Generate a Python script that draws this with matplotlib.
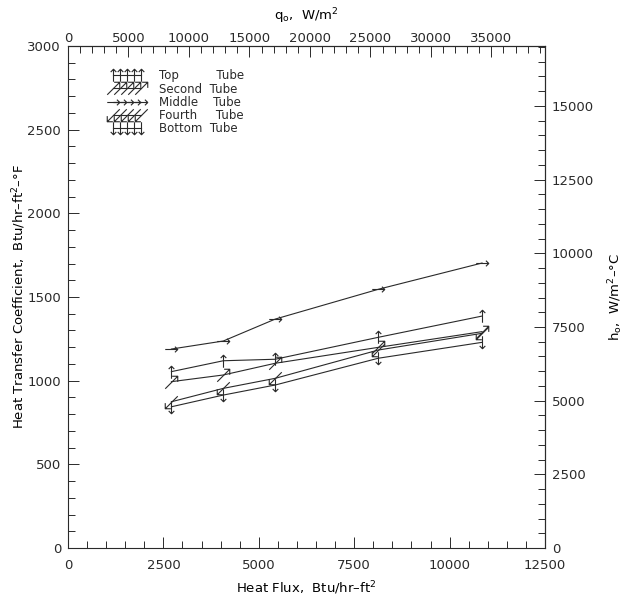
import matplotlib
matplotlib.use("Agg")
import matplotlib.pyplot as plt
from matplotlib.path import Path
from matplotlib.ticker import MultipleLocator
import numpy as np

# ---- data ----
heat_flux = [2710, 4070, 5430, 8130, 10850]          # Btu/hr-ft2
top_tube = [1054, 1119, 1128, 1259, 1386]
second_tube = [994, 1034, 1104, 1199, 1293]
middle_tube = [1189, 1237, 1368, 1546, 1703]
fourth_tube = [874, 954, 1014, 1183, 1283]
bottom_tube = [844, 914, 974, 1134, 1229]
series_names = ["Top", "Second", "Middle", "Fourth", "Bottom"]
legend_labels = ["Top          Tube", "Second  Tube", "Middle    Tube",
                 "Fourth     Tube", "Bottom  Tube"]

FLUX_FACTOR = 3.1546   # Btu/hr-ft2 -> W/m2
COEF_FACTOR = 5.678    # Btu/hr-ft2-F -> W/m2-C

INK = "#2a2a2a"
plt.rcParams["font.family"] = ["DejaVu Sans"]
plt.rcParams["text.color"] = INK
plt.rcParams["axes.edgecolor"] = INK
plt.rcParams["xtick.color"] = INK
plt.rcParams["ytick.color"] = INK
plt.rcParams["mathtext.default"] = "regular"


def arrow_marker(angle_deg):
    verts = np.array([[0, -1], [0, 1], [-0.45, 0.55], [0, 1], [0.45, 0.55]], float)
    a = np.deg2rad(angle_deg - 90)
    rot = np.array([[np.cos(a), -np.sin(a)], [np.sin(a), np.cos(a)]])
    verts = verts @ rot.T
    codes = [Path.MOVETO, Path.LINETO, Path.MOVETO, Path.LINETO, Path.LINETO]
    return Path(verts, codes)


fig = plt.figure(figsize=(6.35, 5.96), dpi=100)
ax = fig.add_axes([68 / 635, 48 / 596, 477 / 635, 502 / 596])

series = [top_tube, second_tube, middle_tube, fourth_tube, bottom_tube]
angles = [90, 45, 0, 225, 270]
for lab, vals, ang in zip(legend_labels, series, angles):
    ax.plot(heat_flux, vals, color=INK, lw=0.8,
            marker=arrow_marker(ang), markersize=9, markerfacecolor="none",
            markeredgecolor=INK, markeredgewidth=0.8, label=lab)

ax.set_xlim(0, 12500)
ax.set_ylim(0, 3000)
ax.xaxis.set_major_locator(MultipleLocator(2500))
ax.xaxis.set_minor_locator(MultipleLocator(500))
ax.yaxis.set_major_locator(MultipleLocator(500))
ax.yaxis.set_minor_locator(MultipleLocator(100))
ax.tick_params(which="both", direction="in", labelsize=9.5, width=0.7)
ax.tick_params(which="major", length=8)
ax.tick_params(which="minor", length=5)
ax.tick_params(axis="x", pad=8)
ax.tick_params(axis="y", pad=5)
for s in ax.spines.values():
    s.set_linewidth(0.8)

ax.set_xlabel("Heat Flux,  Btu/hr\u2013ft$^2$", fontsize=9.5)
ax.xaxis.set_label_coords(0.5, -0.062)
ax.set_ylabel("Heat Transfer Coefficient,  Btu/hr\u2013ft$^2$\u2013\u00b0F",
              fontsize=9.5)
ax.yaxis.set_label_coords(-0.084, 0.5)

secx = ax.secondary_xaxis("top", functions=(lambda x: x * FLUX_FACTOR,
                                             lambda x: x / FLUX_FACTOR))
secx.xaxis.set_major_locator(MultipleLocator(5000))
secx.xaxis.set_minor_locator(MultipleLocator(1000))
secx.tick_params(which="both", direction="in", labelsize=9.5, width=0.7, pad=1)
secx.tick_params(which="major", length=8)
secx.tick_params(which="minor", length=5)
secx.set_xlabel("q$_o$,  W/m$^2$", fontsize=9.5, labelpad=8)

secy = ax.secondary_yaxis("right", functions=(lambda y: y * COEF_FACTOR,
                                               lambda y: y / COEF_FACTOR))
secy.yaxis.set_major_locator(MultipleLocator(2500))
secy.yaxis.set_minor_locator(MultipleLocator(500))
secy.tick_params(which="both", direction="in", labelsize=9.5, width=0.7, pad=5)
secy.tick_params(which="major", length=8)
secy.tick_params(which="minor", length=5)
secy.set_ylabel("h$_o$,  W/m$^2$\u2013\u00b0C", fontsize=9.5, labelpad=9)

leg = ax.legend(loc="upper left", bbox_to_anchor=(0.076, 0.963), frameon=False,
                numpoints=5, handlelength=3.0, fontsize=8.5, labelspacing=0.02,
                handletextpad=1.2, borderaxespad=0)

fig.savefig("out.png", dpi=100)
